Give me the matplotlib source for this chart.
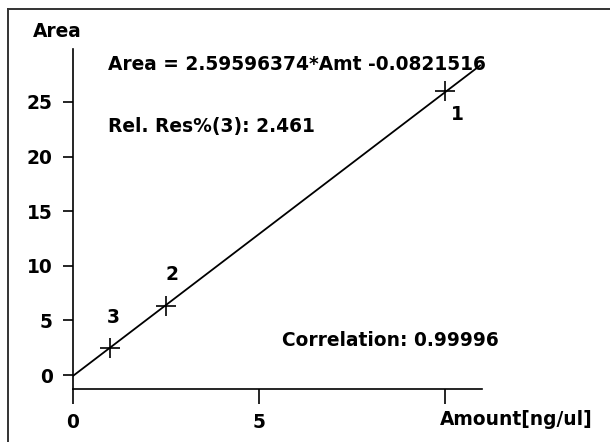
import matplotlib
matplotlib.use('Agg')
import matplotlib.pyplot as plt
from matplotlib.lines import Line2D
import numpy as np

# calibration points (amount, area) and their labels
amounts = [10.0, 2.5, 1.0]
areas = [26.05, 6.3, 2.5]
point_labels = ['1', '2', '3']
label_offsets = [(9, -17), (4, 23), (2, 22)]

slope = 2.59596374
intercept = -0.0821516
fit_range = [0.0, 10.95]

x_ticks = [0, 5, 10]
x_tick_labels = ['0', '5', '']   # 10 is covered by the axis title in the original
y_ticks = [0, 5, 10, 15, 20, 25]

plt.rcParams['font.family'] = ['DejaVu Sans']
plt.rcParams['font.weight'] = 'bold'
fs = 13.4

fig = plt.figure(figsize=(6.10, 4.42), dpi=100)
ax = fig.add_axes([73 / 610, 1 - 389 / 442, (482 - 73) / 610, (389 - 49) / 442])

fx = np.array(fit_range)
ax.plot(fx, slope * fx + intercept, color='black', lw=1.3)
ax.plot(amounts, areas, linestyle='none', marker='+', ms=15, mew=1.2, color='black')

for x, y, lab, off in zip(amounts, areas, point_labels, label_offsets):
    ax.annotate(lab, (x, y), xytext=off, textcoords='offset points',
                ha='center', va='center', fontsize=fs, fontweight='bold')

ax.set_xlim(0, 11)
ax.set_ylim(-1.28, 29.85)
ax.set_xticks(x_ticks)
ax.set_xticklabels(x_tick_labels)
ax.set_yticks(y_ticks)
for s in ['top', 'right']:
    ax.spines[s].set_visible(False)
for s in ['left', 'bottom']:
    ax.spines[s].set_linewidth(1.2)
ax.tick_params(axis='y', direction='out', length=7.5, width=1.2, pad=7, labelsize=fs)
ax.tick_params(axis='x', direction='out', length=11, width=1.2, pad=6, labelsize=fs)
for t in ax.get_xticklabels() + ax.get_yticklabels():
    t.set_fontweight('bold')

# texts placed in figure pixels
def ftext(px, py, s, **kw):
    fig.text(px / 610, 1 - py / 442, s, fontsize=fs, fontweight='bold', va='baseline', **kw)

ftext(33, 37, 'Area')
ftext(108, 70, 'Area = 2.59596374*Amt -0.0821516')
ftext(108, 132, 'Rel. Res%(3): 2.461')
ftext(282, 346, 'Correlation: 0.99996')
ftext(440, 425, 'Amount[ng/ul]')

# outer frame (top and left edges only)
fig.add_artist(Line2D([8 / 610, 1], [1 - 9 / 442, 1 - 9 / 442], color='#333333', lw=1.4))
fig.add_artist(Line2D([8 / 610, 8 / 610], [0, 1 - 9 / 442], color='#333333', lw=1.4))

fig.savefig('out.png', dpi=100)
